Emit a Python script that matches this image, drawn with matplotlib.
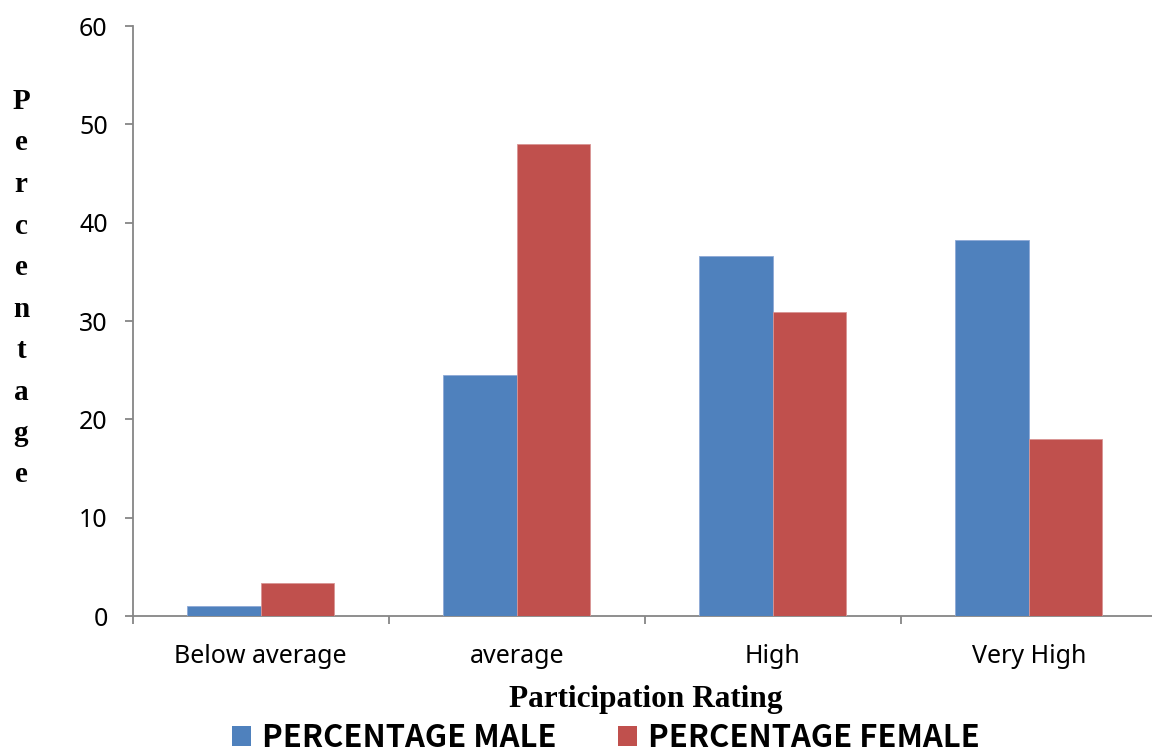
import numpy as np
import matplotlib
matplotlib.use("Agg")
import matplotlib.pyplot as plt
from matplotlib.patches import Patch

categories = ["Below average", "average", "High", "Very High"]
male = [1.05, 24.5, 36.6, 38.2]
female = [3.4, 48.0, 30.9, 18.0]
series_names = ["PERCENTAGE MALE", "PERCENTAGE FEMALE"]
y_ticks = [0, 10, 20, 30, 40, 50, 60]

BLUE = "#4F81BD"
RED = "#C0504D"
GREY = "#868686"
SANS = "Noto Sans"
SERIF = "Liberation Serif"

W, H = 1152, 753
fig = plt.figure(figsize=(W / 100, H / 100), dpi=100)
ax = fig.add_axes([132.7 / W, 1 - 616 / H, 1024 / W, (616 - 26) / H])

x = np.arange(len(categories))
bw = 0.287
ax.bar(x - bw / 2, male, bw, color=BLUE, edgecolor="#8EA9D6", linewidth=0.6, zorder=3)
ax.bar(x + bw / 2, female, bw, color=RED, edgecolor="#D99594", linewidth=0.6, zorder=3)

ax.set_xlim(-0.5, len(categories) - 0.5)
ax.set_ylim(0, 60)
ax.set_yticks(y_ticks)
ax.set_xticks(x)
ax.set_xticklabels(categories, fontfamily=SANS, fontsize=18)
ax.set_xticks(np.arange(len(categories) + 1) - 0.5, minor=True)
for lab in ax.get_yticklabels():
    lab.set_fontfamily(SANS)
    lab.set_fontsize(18)

for s in ["top", "right"]:
    ax.spines[s].set_visible(False)
for s in ["left", "bottom"]:
    ax.spines[s].set_color(GREY)
    ax.spines[s].set_linewidth(1.3)

ax.tick_params(axis="y", length=6, width=1.3, color=GREY, pad=12, labelcolor="black")
ax.tick_params(axis="x", which="major", length=0, pad=20, labelcolor="black")
ax.tick_params(axis="x", which="minor", length=6, width=1.3, color=GREY)

# vertical stacked y label
for i, ch in enumerate("Percentage"):
    fig.text(21 / W, 1 - (109 + 41.5 * i) / H, ch, ha="center", va="baseline",
             fontfamily=SERIF, fontweight="bold", fontsize=21)

fig.text(646 / W, 1 - 699 / H, "Participation Rating", ha="center", va="center",
         fontfamily=SERIF, fontweight="bold", fontsize=22.5)

handles = [Patch(facecolor=BLUE), Patch(facecolor=RED)]
fig.legend(handles, series_names, loc="center", bbox_to_anchor=(606 / W, 1 - 738 / H),
           ncol=2, frameon=False, handlelength=0.6, handleheight=0.6,
           handletextpad=0.35, columnspacing=2.0,
           prop={"family": "Noto Sans CJK KR", "weight": "bold", "size": 22.3})

fig.savefig("out.png", dpi=100)
